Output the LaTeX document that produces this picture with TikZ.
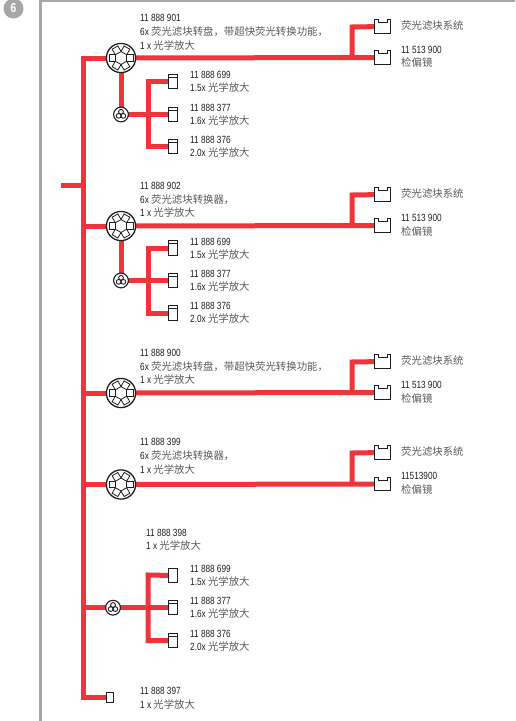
\documentclass[tikz,border=0pt]{standalone}
\usepackage{fontspec}
\setmainfont{Liberation Sans}[FakeStretch=0.79]
\newfontfamily\cjk{Noto Sans CJK SC}
\usetikzlibrary{backgrounds}
\newcommand{\Cn}[1]{{\fontsize{10.4}{10.4}\cjk\color{cjkgray}#1}}
\definecolor{cjkgray}{HTML}{5A5A5A}
\definecolor{redline}{HTML}{F1333B}
\definecolor{framegray}{HTML}{A6A6A6}
\definecolor{ink}{HTML}{1E1E1E}
\tikzset{
  conn/.style={draw=redline,line width=5pt,line join=miter},
  lab/.style={anchor=base west,inner sep=0pt,font=\fontsize{10.4}{10.4}\selectfont,text=ink},
  sym/.style={draw=ink,line width=1pt,fill=white},
  anchorbox/.style={inner sep=0pt,minimum size=2pt,shape=rectangle},
}
% turret: name, x, y
\newcommand{\turret}[3]{%
  \node[anchorbox,minimum size=30pt,shape=circle] (#1) at (#2,#3) {};
  \draw[sym,line width=1.3pt] (#2,#3) circle[radius=14.6];
  \foreach \a in {0,60,...,300}{
    \draw[sym,line width=.8pt,rotate around={\a:(#2,#3)}] (#2+5.6,#3-3.3) rectangle (#2+12,#3+3.3);
  }
}
% wheel: name, x, y
\newcommand{\wheel}[3]{%
  \node[anchorbox,minimum size=15pt,shape=circle] (#1) at (#2,#3) {};
  \draw[sym,line width=1.1pt] (#2,#3) circle[radius=7.4];
  \foreach \a in {270,30,150}{
    \draw[ink,line width=.9pt] (#2,#3) ++(\a:2.7) circle[radius=2.4];
  }
}
\newcommand{\holderplain}[3]{%
  \node[anchorbox,minimum width=9pt,minimum height=14.5pt] (#1) at (#2,#3) {};
  \draw[sym,line width=.95pt] (#2-4.5,#3-7.2) rectangle (#2+4.5,#3+7.2);
}
\newcommand{\holder}[3]{%
  \holderplain{#1}{#2}{#3}
  \draw[ink,line width=.6pt] (#2-4.5,#3-4.3) -- (#2+4.5,#3-4.3);
}
% small terminal box: name, x, y
\newcommand{\smallbox}[3]{%
  \node[anchorbox,minimum width=7pt,minimum height=10pt] (#1) at (#2,#3) {};
  \draw[sym,line width=.95pt] (#2-3.5,#3-5) rectangle (#2+3.5,#3+5);
}
% filter box: name, x, y
\newcommand{\filterbox}[3]{%
  \node[anchorbox,minimum width=16pt,minimum height=14pt] (#1) at (#2,#3) {};
  \draw[sym,line width=1pt] (#2-8,#3-7) -- (#2-4.5,#3-7) -- (#2-4.5,#3-4) -- (#2+4.5,#3-4) -- (#2+4.5,#3-7) -- (#2+8,#3-7) -- (#2+8,#3+6.5) -- (#2-8,#3+6.5) -- cycle;
}
\newcommand{\lab}[4]{\node[lab] (#1) at (#2,#3+3.6) {#4};}
% holder group: prefix, wheel x, three holder y
\newcommand{\holdergroup}[5]{%
  \wheel{#1w}{#2}{#4}
  \coordinate (#1ja) at (148,#3);
  \coordinate (#1jc) at (148,#5);
  \holder{#1h2}{172.5}{#4}
  \holder{#1h3}{172.5}{#5}
  \begin{scope}[on background layer]
    \draw[conn] (#1w.center) -- (#1h2.center);
    \draw[conn] (#1h1.center) -- (#1ja) -- (#1jc) -- (#1h3.center);
  \end{scope}
}
\begin{document}
\begin{tikzpicture}[x=1pt,y=-1pt]
\useasboundingbox (0,0) rectangle (515,721);
% badge and frame
\node[circle,fill=framegray,inner sep=0pt,minimum size=20pt,text=white,font=\bfseries\fontsize{13}{13}\selectfont] (badge) at (13.5,8.5) {6};
\coordinate (frameA) at (40.2,721);
\coordinate (frameB) at (40.2,1);
\coordinate (frameC) at (515,1);
\draw[framegray,line width=2.6pt] (frameA) -- (frameB) -- (frameC);

% ---- block 1
\turret{t1}{121}{58}
\filterbox{f1a}{382.5}{26.5}
\filterbox{f1b}{382.5}{57.5}
\coordinate (b1) at (352,58);
\coordinate (b1u) at (352,27);
\lab{l1a}{140}{18}{11 888 901}
\lab{l1b}{140}{32}{6x \Cn{荧光滤块转盘，带超快荧光转换功能，}}
\lab{l1c}{140}{46}{1 x \Cn{光学放大}}
\lab{r1a}{401}{25.5}{\Cn{荧光滤块系统}}
\lab{r1b}{401}{49.5}{11 513 900}
\lab{r1c}{401}{63}{\Cn{检偏镜}}
\holder{p1h1}{172.5}{81.5}
\holdergroup{p1}{121}{81.5}{114.5}{146.7}
\lab{m1a}{190}{75}{11 888 699}
\lab{m1b}{190}{88}{1.5x \Cn{光学放大}}
\lab{m1c}{190}{107.5}{11 888 377}
\lab{m1d}{190}{120.5}{1.6x \Cn{光学放大}}
\lab{m1e}{190}{139.5}{11 888 376}
\lab{m1f}{190}{153}{2.0x \Cn{光学放大}}

% ---- block 2
\turret{t2}{121}{226}
\filterbox{f2a}{382.5}{194.5}
\filterbox{f2b}{382.5}{225.5}
\coordinate (b2) at (352,226);
\coordinate (b2u) at (352,195);
\lab{l2a}{140}{186}{11 888 902}
\lab{l2b}{140}{199.5}{6x \Cn{荧光滤块转换器，}}
\lab{l2c}{140}{212.5}{1 x \Cn{光学放大}}
\lab{r2a}{401}{193.5}{\Cn{荧光滤块系统}}
\lab{r2b}{401}{218}{11 513 900}
\lab{r2c}{401}{231.5}{\Cn{检偏镜}}
\holder{p2h1}{172.5}{248}
\holdergroup{p2}{121}{248}{280.5}{313}
\lab{m2a}{190}{241.5}{11 888 699}
\lab{m2b}{190}{254.5}{1.5x \Cn{光学放大}}
\lab{m2c}{190}{273.5}{11 888 377}
\lab{m2d}{190}{287}{1.6x \Cn{光学放大}}
\lab{m2e}{190}{306}{11 888 376}
\lab{m2f}{190}{319}{2.0x \Cn{光学放大}}

% ---- block 3
\turret{t3}{121}{393}
\filterbox{f3a}{382.5}{361.5}
\filterbox{f3b}{382.5}{392.5}
\coordinate (b3) at (352,393);
\coordinate (b3u) at (352,362);
\lab{l3a}{140}{353}{11 888 900}
\lab{l3b}{140}{366.5}{6x \Cn{荧光滤块转盘，带超快荧光转换功能，}}
\lab{l3c}{140}{380}{1 x \Cn{光学放大}}
\lab{r3a}{401}{361}{\Cn{荧光滤块系统}}
\lab{r3b}{401}{385}{11 513 900}
\lab{r3c}{401}{399}{\Cn{检偏镜}}

% ---- block 4
\turret{t4}{121}{484.5}
\filterbox{f4a}{382.5}{452.5}
\filterbox{f4b}{382.5}{484}
\coordinate (b4) at (352,484.5);
\coordinate (b4u) at (352,453);
\lab{l4a}{140}{441.5}{11 888 399}
\lab{l4b}{140}{456}{6x \Cn{荧光滤块转换器，}}
\lab{l4c}{140}{470}{1 x \Cn{光学放大}}
\lab{r4a}{401}{451.5}{\Cn{荧光滤块系统}}
\lab{r4b}{401}{476}{11513900}
\lab{r4c}{401}{489.5}{\Cn{检偏镜}}

% ---- block 5
\holderplain{p5h1}{172.5}{575.5}
\holdergroup{p5}{113}{575}{607.7}{640.5}
\lab{l5a}{146}{532.5}{11 888 398}
\lab{l5b}{146}{545.5}{1 x \Cn{光学放大}}
\lab{m5a}{190}{568.5}{11 888 699}
\lab{m5b}{190}{581.5}{1.5x \Cn{光学放大}}
\lab{m5c}{190}{601}{11 888 377}
\lab{m5d}{190}{614}{1.6x \Cn{光学放大}}
\lab{m5e}{190}{633.5}{11 888 376}
\lab{m5f}{190}{646.5}{2.0x \Cn{光学放大}}

% ---- block 6
\smallbox{e6}{109.7}{697}
\lab{l6a}{140}{690.5}{11 888 397}
\lab{l6b}{140}{704.5}{1 x \Cn{光学放大}}

% trunk coordinates
\coordinate (ttop) at (83,58);
\coordinate (tbot) at (83,697);
\coordinate (j0) at (83,185);
\coordinate (s0) at (61,185);
\coordinate (j2) at (83,226);
\coordinate (j3) at (83,393);
\coordinate (j4) at (83,484.5);
\coordinate (j5) at (83,607.7);

\begin{scope}[on background layer]
  \draw[conn] (t1.center) -- (ttop) -- (tbot) -- (e6.center);
  \draw[conn] (s0) -- (j0);
  \draw[conn] (j2) -- (t2.center);
  \draw[conn] (j3) -- (t3.center);
  \draw[conn] (j4) -- (t4.center);
  \draw[conn] (j5) -- (p5w.center);
  \draw[conn] (t1.center) -- (p1w.center);
  \draw[conn] (t2.center) -- (p2w.center);
  \foreach \i in {1,2,3,4}{
    \draw[conn] (t\i.center) -- (f\i b.center);
    \draw[conn] (b\i) -- (b\i u) -- (f\i a.center);
  }
\end{scope}
\end{tikzpicture}
\end{document}
